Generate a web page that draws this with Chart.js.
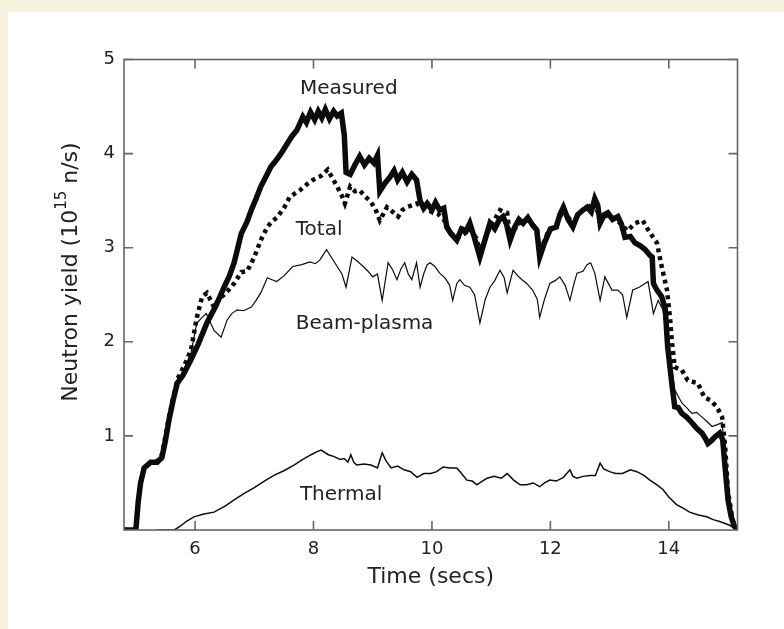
<!DOCTYPE html>
<html>
<head>
<meta charset="utf-8">
<script src="https://cdn.jsdelivr.net/npm/chart.js@4.4.0/dist/chart.umd.min.js"></script>
<style>
  html, body { margin: 0; padding: 0; background: #f7f2de; }
  #panel { position: absolute; left: 8px; top: 12px; width: 776px; height: 617px; background: #ffffff; }
  canvas { display: block; }
</style>
</head>
<body>
<div id="panel"><canvas id="yieldChart" width="776" height="617"></canvas></div>
<script>
// axis ticks
const xTicks = [6, 8, 10, 12, 14];
const yTicks = [1, 2, 3, 4, 5];

// measured neutron yield (thick solid)
const measuredT = [4.80, 5.00, 5.04, 5.08, 5.14, 5.25, 5.36, 5.44, 5.50, 5.56, 5.63, 5.70, 5.80, 5.93, 6.05, 6.20, 6.35, 6.49, 6.58, 6.66, 6.78, 6.88, 6.95, 7.03, 7.11, 7.20, 7.28, 7.36, 7.45, 7.55, 7.63, 7.72, 7.82, 7.88, 7.95, 8.02, 8.08, 8.14, 8.20, 8.27, 8.34, 8.40, 8.47, 8.52, 8.55, 8.62, 8.70, 8.78, 8.86, 8.94, 9.02, 9.08, 9.12, 9.20, 9.29, 9.36, 9.42, 9.50, 9.58, 9.66, 9.74, 9.80, 9.86, 9.92, 10.00, 10.06, 10.13, 10.20, 10.25, 10.32, 10.42, 10.50, 10.58, 10.64, 10.72, 10.81, 10.88, 10.98, 11.06, 11.14, 11.20, 11.26, 11.32, 11.40, 11.47, 11.54, 11.62, 11.70, 11.77, 11.82, 11.90, 12.00, 12.10, 12.16, 12.22, 12.30, 12.38, 12.46, 12.55, 12.62, 12.69, 12.75, 12.80, 12.84, 12.91, 12.97, 13.05, 13.14, 13.20, 13.26, 13.35, 13.43, 13.52, 13.60, 13.68, 13.72, 13.74, 13.80, 13.88, 13.94, 13.98, 14.05, 14.10, 14.16, 14.22, 14.30, 14.39, 14.47, 14.56, 14.62, 14.66, 14.72, 14.78, 14.86, 14.91, 14.95, 15.00, 15.05, 15.10, 15.15];
const measuredY = [0, 0, 0.30, 0.50, 0.66, 0.72, 0.72, 0.77, 0.95, 1.17, 1.38, 1.56, 1.65, 1.81, 1.97, 2.20, 2.38, 2.58, 2.70, 2.84, 3.15, 3.28, 3.40, 3.52, 3.65, 3.76, 3.86, 3.92, 4.00, 4.10, 4.18, 4.25, 4.39, 4.33, 4.44, 4.36, 4.45, 4.38, 4.47, 4.37, 4.45, 4.40, 4.43, 4.20, 3.80, 3.78, 3.88, 3.97, 3.88, 3.95, 3.90, 3.98, 3.60, 3.68, 3.75, 3.82, 3.72, 3.80, 3.70, 3.78, 3.72, 3.50, 3.42, 3.47, 3.40, 3.48, 3.40, 3.42, 3.22, 3.15, 3.08, 3.20, 3.18, 3.26, 3.10, 2.90, 3.05, 3.26, 3.20, 3.30, 3.33, 3.25, 3.08, 3.22, 3.30, 3.26, 3.32, 3.24, 3.19, 2.90, 3.05, 3.20, 3.22, 3.35, 3.43, 3.30, 3.22, 3.35, 3.40, 3.43, 3.38, 3.52, 3.45, 3.26, 3.35, 3.37, 3.30, 3.33, 3.25, 3.11, 3.12, 3.05, 3.02, 2.98, 2.92, 2.90, 2.62, 2.55, 2.48, 2.35, 1.95, 1.56, 1.31, 1.30, 1.24, 1.20, 1.14, 1.08, 1.03, 0.97, 0.92, 0.95, 0.99, 1.03, 0.96, 0.67, 0.32, 0.15, 0.05, 0];

// calculated total (thick dotted)
const totalT = [4.80, 5.00, 5.04, 5.08, 5.14, 5.25, 5.36, 5.44, 5.56, 5.70, 5.82, 5.93, 6.03, 6.12, 6.20, 6.32, 6.40, 6.49, 6.58, 6.66, 6.78, 6.88, 7.00, 7.11, 7.22, 7.30, 7.38, 7.50, 7.60, 7.77, 7.90, 7.99, 8.12, 8.24, 8.32, 8.40, 8.48, 8.53, 8.62, 8.70, 8.78, 8.86, 8.95, 9.04, 9.12, 9.24, 9.34, 9.43, 9.50, 9.57, 9.66, 9.74, 9.84, 9.92, 10.00, 10.10, 10.20, 10.30, 10.42, 10.55, 10.64, 10.75, 10.81, 10.90, 10.98, 11.06, 11.15, 11.27, 11.32, 11.45, 11.60, 11.77, 11.82, 11.95, 12.10, 12.22, 12.38, 12.50, 12.62, 12.75, 12.84, 12.97, 13.10, 13.20, 13.30, 13.43, 13.56, 13.65, 13.80, 13.88, 13.97, 14.02, 14.05, 14.10, 14.22, 14.32, 14.49, 14.60, 14.70, 14.81, 14.90, 14.95, 15.00, 15.08, 15.15];
const totalY = [0, 0, 0.30, 0.50, 0.66, 0.72, 0.73, 0.80, 1.20, 1.60, 1.75, 1.91, 2.26, 2.48, 2.52, 2.37, 2.45, 2.50, 2.56, 2.62, 2.74, 2.75, 2.90, 3.08, 3.22, 3.28, 3.32, 3.42, 3.54, 3.61, 3.68, 3.72, 3.76, 3.83, 3.74, 3.65, 3.55, 3.47, 3.65, 3.60, 3.61, 3.55, 3.50, 3.42, 3.29, 3.43, 3.38, 3.33, 3.40, 3.43, 3.45, 3.47, 3.43, 3.40, 3.38, 3.36, 3.30, 3.17, 3.10, 3.15, 3.20, 3.10, 2.95, 3.10, 3.22, 3.30, 3.40, 3.37, 3.12, 3.25, 3.30, 3.20, 2.95, 3.15, 3.25, 3.40, 3.25, 3.38, 3.42, 3.48, 3.30, 3.35, 3.30, 3.25, 3.18, 3.26, 3.29, 3.19, 3.05, 2.80, 2.55, 2.26, 2.02, 1.73, 1.70, 1.59, 1.56, 1.41, 1.38, 1.31, 1.20, 0.90, 0.40, 0.10, 0];

// beam-plasma component (thin)
const beamT = [5.00, 5.04, 5.08, 5.14, 5.25, 5.36, 5.44, 5.56, 5.70, 5.82, 5.93, 6.03, 6.12, 6.19, 6.32, 6.44, 6.54, 6.62, 6.71, 6.82, 6.95, 7.03, 7.11, 7.22, 7.30, 7.38, 7.50, 7.65, 7.80, 7.94, 8.03, 8.11, 8.22, 8.32, 8.40, 8.48, 8.55, 8.65, 8.75, 8.84, 8.92, 9.00, 9.08, 9.16, 9.26, 9.34, 9.41, 9.48, 9.54, 9.60, 9.66, 9.74, 9.80, 9.86, 9.92, 9.97, 10.05, 10.13, 10.22, 10.30, 10.35, 10.42, 10.47, 10.55, 10.64, 10.72, 10.81, 10.90, 10.98, 11.06, 11.15, 11.22, 11.27, 11.37, 11.45, 11.52, 11.60, 11.70, 11.78, 11.82, 11.90, 11.99, 12.08, 12.16, 12.25, 12.33, 12.40, 12.45, 12.55, 12.62, 12.68, 12.75, 12.84, 12.92, 13.04, 13.14, 13.22, 13.29, 13.39, 13.50, 13.65, 13.74, 13.82, 13.90, 13.98, 14.05, 14.10, 14.22, 14.30, 14.39, 14.47, 14.56, 14.65, 14.73, 14.82, 14.90, 14.95, 15.00, 15.08, 15.15];
const beamY = [0, 0.30, 0.50, 0.66, 0.72, 0.72, 0.77, 1.17, 1.56, 1.72, 1.88, 2.20, 2.26, 2.30, 2.12, 2.05, 2.23, 2.30, 2.34, 2.33, 2.37, 2.44, 2.52, 2.68, 2.66, 2.64, 2.70, 2.80, 2.82, 2.85, 2.83, 2.87, 2.98, 2.88, 2.80, 2.72, 2.58, 2.90, 2.85, 2.80, 2.75, 2.69, 2.72, 2.44, 2.84, 2.76, 2.66, 2.78, 2.84, 2.72, 2.66, 2.84, 2.58, 2.72, 2.82, 2.84, 2.80, 2.73, 2.68, 2.60, 2.44, 2.62, 2.66, 2.60, 2.58, 2.50, 2.20, 2.45, 2.58, 2.65, 2.76, 2.68, 2.52, 2.76, 2.70, 2.66, 2.62, 2.55, 2.45, 2.26, 2.45, 2.62, 2.65, 2.69, 2.60, 2.44, 2.62, 2.73, 2.75, 2.82, 2.84, 2.73, 2.44, 2.69, 2.55, 2.55, 2.50, 2.26, 2.55, 2.58, 2.64, 2.30, 2.44, 2.34, 2.05, 1.73, 1.49, 1.35, 1.30, 1.24, 1.25, 1.20, 1.15, 1.10, 1.12, 1.14, 0.80, 0.40, 0.10, 0];

// thermal component (thin)
const thermalT = [5.35, 5.65, 5.75, 5.85, 5.98, 6.15, 6.32, 6.50, 6.66, 6.83, 7.00, 7.17, 7.33, 7.50, 7.67, 7.82, 7.96, 8.05, 8.13, 8.25, 8.35, 8.45, 8.52, 8.58, 8.63, 8.68, 8.73, 8.85, 8.97, 9.08, 9.16, 9.22, 9.31, 9.42, 9.53, 9.64, 9.75, 9.86, 9.98, 10.08, 10.19, 10.30, 10.42, 10.50, 10.59, 10.68, 10.76, 10.85, 10.93, 11.05, 11.17, 11.27, 11.38, 11.49, 11.60, 11.71, 11.82, 11.90, 11.99, 12.10, 12.22, 12.33, 12.38, 12.45, 12.55, 12.67, 12.76, 12.84, 12.90, 13.00, 13.10, 13.22, 13.35, 13.46, 13.58, 13.68, 13.80, 13.90, 14.00, 14.13, 14.25, 14.35, 14.50, 14.64, 14.75, 14.86, 15.03, 15.15];
const thermalY = [0, 0, 0.04, 0.09, 0.14, 0.17, 0.19, 0.25, 0.32, 0.39, 0.45, 0.52, 0.58, 0.63, 0.69, 0.75, 0.80, 0.83, 0.85, 0.80, 0.78, 0.75, 0.76, 0.72, 0.80, 0.72, 0.69, 0.70, 0.69, 0.66, 0.82, 0.74, 0.66, 0.68, 0.64, 0.62, 0.56, 0.60, 0.60, 0.62, 0.67, 0.66, 0.66, 0.60, 0.53, 0.52, 0.48, 0.52, 0.55, 0.57, 0.55, 0.60, 0.53, 0.48, 0.48, 0.50, 0.46, 0.50, 0.53, 0.52, 0.56, 0.64, 0.57, 0.55, 0.57, 0.58, 0.58, 0.71, 0.65, 0.62, 0.60, 0.60, 0.64, 0.62, 0.58, 0.53, 0.48, 0.43, 0.35, 0.27, 0.23, 0.19, 0.16, 0.14, 0.11, 0.09, 0.05, 0];

// curve labels, placed in data units (left edge, baseline)
const labelText = ["Measured", "Total", "Beam-plasma", "Thermal"];
const labelX = [7.77, 7.70, 7.70, 7.77];
const labelY = [4.63, 3.13, 2.14, 0.32];

const zip = (ts, ys) => ts.map((t, i) => ({ x: t, y: ys[i] }));
const ink = "#0c0c0c";
const frameColor = "#666666";
const textColor = "#222222";
const fontFamily = "'DejaVu Sans', sans-serif";

// frame, inward ticks, curve labels and y title
const framePlugin = {
  id: "frame",
  afterDatasetsDraw(chart) {
    const { ctx, chartArea: a, scales } = chart;
    const xs = scales.x, ys = scales.y;
    ctx.save();
    ctx.strokeStyle = frameColor;
    ctx.lineWidth = 1.6;
    ctx.strokeRect(a.left, a.top, a.right - a.left, a.bottom - a.top);
    ctx.beginPath();
    xTicks.forEach(v => {
      const px = xs.getPixelForValue(v);
      ctx.moveTo(px, a.bottom); ctx.lineTo(px, a.bottom - 9);
      ctx.moveTo(px, a.top); ctx.lineTo(px, a.top + 9);
    });
    yTicks.forEach(v => {
      const py = ys.getPixelForValue(v);
      ctx.moveTo(a.left, py); ctx.lineTo(a.left + 9, py);
      ctx.moveTo(a.right, py); ctx.lineTo(a.right - 9, py);
    });
    ctx.stroke();

    ctx.fillStyle = textColor;
    ctx.font = "20px " + fontFamily;
    ctx.textBaseline = "alphabetic";
    ctx.textAlign = "left";
    labelText.forEach((s, i) => {
      ctx.fillText(s, xs.getPixelForValue(labelX[i]), ys.getPixelForValue(labelY[i]));
    });

    // y title with superscript
    const parts = [["Neutron yield (10", 22, 0], ["15", 15, -9], [" n/s)", 22, 0]];
    ctx.translate(63, 260);
    ctx.rotate(-Math.PI / 2);
    let total = 0;
    parts.forEach(p => { ctx.font = p[1] + "px " + fontFamily; total += ctx.measureText(p[0]).width; });
    let x = -total / 2;
    ctx.textBaseline = "middle";
    parts.forEach(p => {
      ctx.font = p[1] + "px " + fontFamily;
      ctx.fillText(p[0], x, p[2]);
      x += ctx.measureText(p[0]).width;
    });
    ctx.restore();
  }
};

const ctx = document.getElementById("yieldChart").getContext("2d");
new Chart(ctx, {
  type: "line",
  data: {
    datasets: [
      {
        label: "Thermal",
        data: zip(thermalT, thermalY),
        borderColor: ink,
        borderWidth: 1.5,
        pointRadius: 0,
        tension: 0
      },
      {
        label: "Beam-plasma",
        data: zip(beamT, beamY),
        borderColor: ink,
        borderWidth: 1.2,
        pointRadius: 0,
        tension: 0
      },
      {
        label: "Total",
        data: zip(totalT, totalY),
        borderColor: ink,
        borderWidth: 4.5,
        borderDash: [4, 4],
        pointRadius: 0,
        tension: 0
      },
      {
        label: "Measured",
        data: zip(measuredT, measuredY),
        borderColor: ink,
        borderWidth: 5.5,
        borderJoinStyle: "miter",
        pointRadius: 0,
        tension: 0
      }
    ]
  },
  options: {
    responsive: false,
    animation: false,
    layout: { padding: { top: 47.5, right: 46.5, left: 0, bottom: 0 } },
    plugins: {
      legend: { display: false },
      tooltip: { enabled: false }
    },
    scales: {
      x: {
        type: "linear",
        min: 4.8,
        max: 15.16,
        afterBuildTicks: scale => { scale.ticks = xTicks.map(v => ({ value: v })); },
        afterFit: scale => { scale.height = 99; },
        grid: { display: false, drawTicks: false },
        border: { display: false },
        ticks: {
          color: textColor,
          padding: 9,
          font: { family: fontFamily, size: 18 }
        },
        title: {
          display: true,
          text: "Time (secs)",
          color: textColor,
          font: { family: fontFamily, size: 22 },
          padding: { top: 0, bottom: 39 }
        }
      },
      y: {
        min: 0,
        max: 5,
        afterBuildTicks: scale => { scale.ticks = yTicks.map(v => ({ value: v })); },
        afterFit: scale => { scale.width = 116; },
        grid: { display: false, drawTicks: false },
        border: { display: false },
        ticks: {
          color: textColor,
          padding: 9,
          font: { family: fontFamily, size: 18 }
        }
      }
    }
  },
  plugins: [framePlugin]
});
</script>
</body>
</html>
